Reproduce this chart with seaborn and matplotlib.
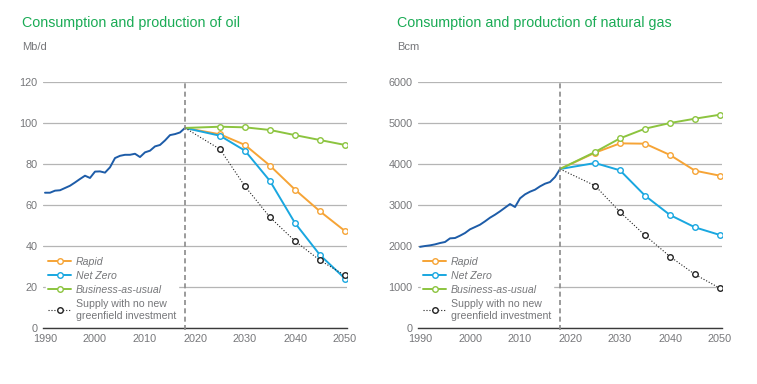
import matplotlib
matplotlib.use("Agg")
import matplotlib.pyplot as plt
import seaborn as sns

# --- Data ---
hist_years = list(range(1990, 2019))
oil_hist = [66.0, 66.0, 67.0, 67.2, 68.3, 69.4, 71.0, 72.7, 74.3, 73.2,
            76.3, 76.4, 75.8, 78.4, 82.9, 84.0, 84.5, 84.5, 85.0, 83.4,
            85.7, 86.5, 88.6, 89.3, 91.5, 94.1, 94.6, 95.4, 97.6]
gas_hist = [1980, 2000, 2016, 2040, 2073, 2098, 2187, 2195, 2252, 2317,
            2407, 2463, 2520, 2602, 2691, 2764, 2846, 2935, 3024, 2951,
            3163, 3260, 3325, 3374, 3455, 3520, 3561, 3683, 3878]

scen_years = [2018, 2025, 2030, 2035, 2040, 2045, 2050]
oil_rapid = [97.6, 94.5, 89.3, 79.2, 67.5, 56.9, 47.3]
oil_netzero = [97.6, 93.8, 86.5, 71.7, 51.2, 35.6, 24.1]
oil_bau = [97.6, 98.2, 97.9, 96.6, 94.1, 91.7, 89.3]
oil_supply = [97.6, 87.2, 69.1, 54.0, 42.4, 33.0, 25.7]

gas_rapid = [3878, 4276, 4504, 4496, 4220, 3837, 3715]
gas_netzero = [3878, 4024, 3846, 3228, 2756, 2455, 2268]
gas_bau = [3878, 4293, 4626, 4862, 5000, 5106, 5203]
gas_supply = [3878, 3472, 2829, 2260, 1742, 1306, 968]

titles = ["Consumption and production of oil", "Consumption and production of natural gas"]
units = ["Mb/d", "Bcm"]
x_ticks = [1990, 2000, 2010, 2020, 2030, 2040, 2050]
oil_ticks = [0, 20, 40, 60, 80, 100, 120]
gas_ticks = [0, 1000, 2000, 3000, 4000, 5000, 6000]

scen_names = ["Rapid", "Net Zero", "Business-as-usual", "Supply with no new\ngreenfield investment"]

# --- Style ---
sns.set_theme(style="white")
plt.rcParams['font.family'] = ['Liberation Sans', 'DejaVu Sans']

GREEN_TITLE = "#1aab55"
GREY_TXT = "#76777a"
HIST = "#1d5ca8"
ORANGE = "#f6a436"
BLUE = "#19a7e0"
LIME = "#8cc43f"
BLACK = "#222222"

fig = plt.figure(figsize=(7.57, 3.84), dpi=100)

panels = [
    (0.0568, oil_hist, [oil_rapid, oil_netzero, oil_bau, oil_supply], oil_ticks, 120),
    (0.5522, gas_hist, [gas_rapid, gas_netzero, gas_bau, gas_supply], gas_ticks, 6000),
]

for i, (left, hist, scens, yticks, ymax) in enumerate(panels):
    ax = fig.add_axes([left, 0.1458, 0.4016, 0.6406])

    # history
    sns.lineplot(x=hist_years, y=hist, ax=ax, color=HIST, lw=1.4)

    # scenarios
    colors = [ORANGE, BLUE, LIME, BLACK]
    for vals, c, name in zip(scens, colors, scen_names):
        dotted = c == BLACK
        sns.lineplot(x=scen_years, y=vals, ax=ax, color=c,
                     lw=0.8 if dotted else 1.4, ls=":" if dotted else "-",
                     marker="o", markersize=4, markerfacecolor="white",
                     markeredgecolor=c, markeredgewidth=1.0,
                     markevery=slice(1, None), label=name, zorder=3)

    ax.axvline(2018, color="#8a8a8a", lw=1.2, ls=(0, (3, 2)), ymin=-0.01, zorder=7, clip_on=False)

    ax.set_xlim(1989.6, 2050.4)
    ax.set_ylim(0, ymax)
    ax.set_xticks(x_ticks)
    ax.set_yticks(yticks)
    ax.tick_params(axis="both", length=0, labelsize=7.8, labelcolor=GREY_TXT, pad=4)
    ax.grid(axis="y", color="#b5b5b5", lw=0.9)
    ax.grid(axis="x", visible=False)
    for s in ["top", "right", "left"]:
        ax.spines[s].set_visible(False)
    ax.spines["bottom"].set_color("#3a3a3a")
    ax.spines["bottom"].set_linewidth(1.0)
    ax.set_xlabel("")
    ax.set_ylabel("")

    leg = ax.legend(loc="lower left", bbox_to_anchor=(0.01, 0.02), frameon=True,
                    fontsize=7.6, handlelength=2.2, handletextpad=0.4,
                    labelspacing=0.4, borderpad=0.2, borderaxespad=0.0)
    leg.get_frame().set_facecolor("white")
    leg.get_frame().set_edgecolor("white")
    leg.get_frame().set_alpha(1)
    for t, name in zip(leg.get_texts(), scen_names):
        t.set_color(GREY_TXT)
        if "\n" not in name:
            t.set_style("italic")

    fig.text(left - 0.0277, 0.94, titles[i], color=GREEN_TITLE, fontsize=10.3, va="center", ha="left")
    fig.text(left - 0.0277, 0.877, units[i], color=GREY_TXT, fontsize=8, va="center", ha="left")

fig.savefig("out.png", dpi=100)
